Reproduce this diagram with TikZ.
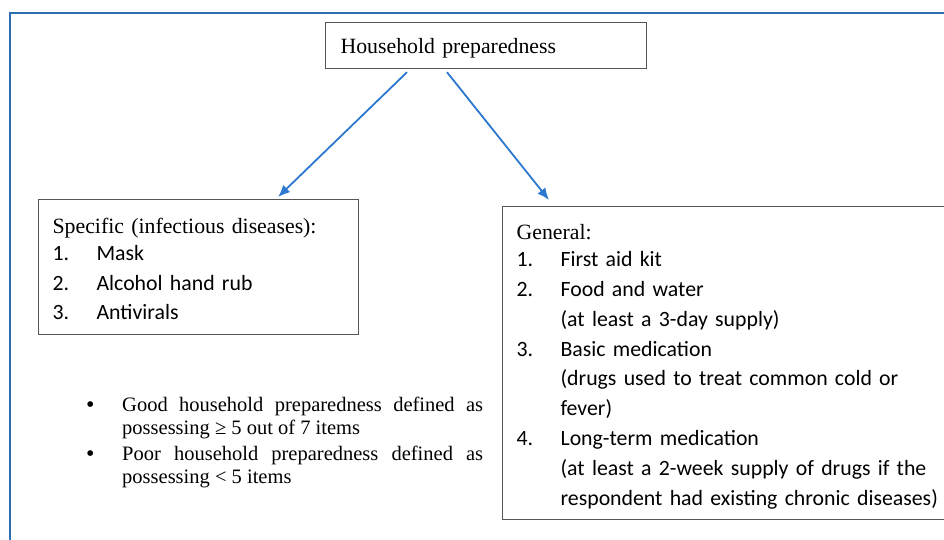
\documentclass[tikz,border=0pt]{standalone}
\usepackage{fontspec}
\setmainfont{Liberation Serif}
\newfontfamily\calib{Carlito}
\usetikzlibrary{arrows.meta}
\definecolor{framec}{RGB}{46,108,180}
\definecolor{arrc}{RGB}{44,120,206}
\definecolor{boxc}{RGB}{85,85,85}
\tikzset{
 box/.style={draw=boxc, line width=1.2pt, anchor=north west, inner ysep=0pt, inner xsep=14pt, align=left},
 link/.style={draw=arrc, line width=1.8pt, -{Latex[length=12pt,width=10pt]}},
}
\newcommand{\itm}[2]{\makebox[44pt][l]{#1}#2}
\newcommand{\blt}{\leavevmode\llap{\makebox[36pt][l]{\raisebox{-1pt}{\fontsize{24}{24}\selectfont •}}}}
\begin{document}
\begin{tikzpicture}[x=1pt,y=1pt]
\useasboundingbox (0,0) rectangle (944,-540);
\draw[framec, line width=2.2pt] (10,-542) -- (10,-13) -- (946,-13);

\node[box, inner xsep=15pt, text width=291pt, text height=31pt, text depth=15pt,
  font=\fontsize{21.8}{26}\selectfont] (top) at (325,-22) {Household preparedness};

\node[box, text width=292pt, text height=34pt, text depth=101pt,
  font=\fontsize{21.8}{29.5}\selectfont] (spec) at (38,-199)
  {Specific (infectious diseases):\\[-2.5pt]
   \calib\itm{1.}{Mask}\\
   \itm{2.}{Alcohol hand rub}\\
   \itm{3.}{Antivirals}};

\node[box, text width=440pt, text height=33pt, text depth=280pt,
  font=\fontsize{21.8}{29.8}\selectfont] (gen) at (502,-206)
  {General:\\[-2.8pt]
   \calib\itm{1.}{First aid kit}\\
   \itm{2.}{Food and water}\\
   \itm{}{(at least a 3-day supply)}\\
   \itm{3.}{Basic medication}\\
   \itm{}{(drugs used to treat common cold or}\\
   \itm{}{fever)}\\
   \itm{4.}{Long-term medication}\\
   \itm{}{(at least a 2-week supply of drugs if the}\\
   \itm{}{respondent had existing chronic diseases)}};

\node[anchor=base west, text width=361pt, align=justify, inner sep=0pt,
  font=\fontsize{20.5}{23.3}\selectfont] (notes) at (122,-411)
  {\tolerance=9999 \hbadness=10000 \hyphenpenalty=10000
   \blt Good household preparedness defined as possessing ≥ 5 out of 7 items\par
   \vspace{2.7pt}
   \blt Poor household preparedness defined as possessing < 5 items\par};

\draw[link] ([xshift=82pt,yshift=-3pt]top.south west) -- ([xshift=240pt,yshift=2pt]spec.north west);
\draw[link] ([xshift=122pt,yshift=-3pt]top.south west) -- ([xshift=47pt,yshift=6pt]gen.north west);
\end{tikzpicture}
\end{document}
